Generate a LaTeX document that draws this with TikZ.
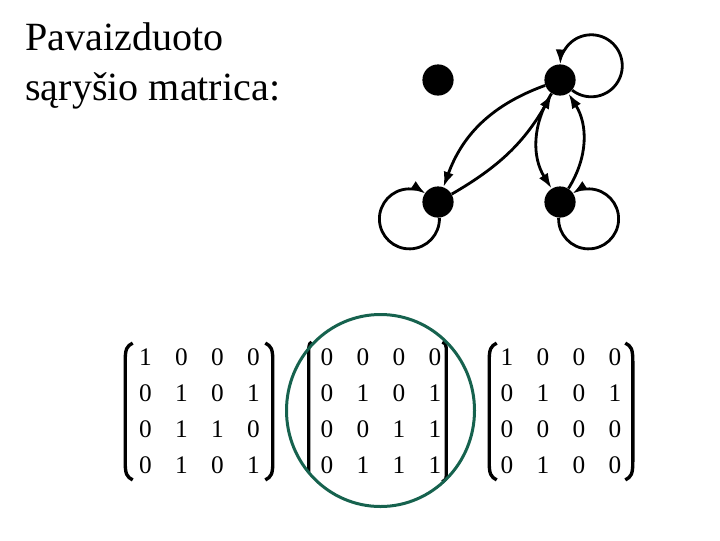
\documentclass[tikz,border=0pt]{standalone}
\usepackage{fontspec}
\setmainfont{Liberation Serif}
\usetikzlibrary{arrows.meta,matrix}
\definecolor{ringgreen}{RGB}{22,98,78}
\tikzset{
  vertex/.style={circle,fill=black,minimum size=0.78cm,inner sep=0pt},
  arc/.style={-{Latex[length=0.38cm,width=0.26cm]},line width=2pt},
  relmatrix/.style={matrix of nodes,inner sep=0pt,
    nodes={minimum width=0.9cm,minimum height=0.9cm,inner sep=0pt,font=\fontsize{18}{21}\selectfont}},
  bracket/.style={line width=2.4pt}
}
\begin{document}
\begin{tikzpicture}[x=0.025cm,y=-0.025cm]
        \useasboundingbox (0,0) rectangle (720,540);

        \node [anchor=base west,font=\fontsize{28.5}{34}\selectfont,inner sep=0pt] (title1) at (25,50) {Pavaizduoto};
        \node [anchor=base west,font=\fontsize{28.5}{34}\selectfont,inner sep=0pt] (title2) at (25,100) {sąryšio matrica:};

        \node [vertex] (a) at (438,80) {};
        \node [vertex] (b) at (560,80) {};
        \node [vertex] (c) at (438,202) {};
        \node [vertex] (d) at (560,202) {};

        \draw [arc] (b.-40) arc [start angle=128,end angle=-178,radius=31];
        \draw [arc] (c.-85) arc [start angle=-2,end angle=303,radius=30];
        \draw [arc] (d.-95) arc [start angle=182,end angle=-123,radius=30];
        \draw [arc] (b) to [bend right=25] (c);
        \draw [arc] (c) to [bend right=15] (b);
        \draw [arc] (b) to [bend right=32] (d);
        \draw [arc] (d) to [bend right=32] (b);

        \matrix [relmatrix] (m1) at (199.5,411.5) {
          1 & 0 & 0 & 0 \\
          0 & 1 & 0 & 1 \\
          0 & 1 & 1 & 0 \\
          0 & 1 & 0 & 1 \\
        };
        \matrix [relmatrix] (m2) at (381,411.5) {
          0 & 0 & 0 & 0 \\
          0 & 1 & 0 & 1 \\
          0 & 0 & 1 & 1 \\
          0 & 1 & 1 & 1 \\
        };
        \matrix [relmatrix] (m3) at (561,411.5) {
          1 & 0 & 0 & 0 \\
          0 & 1 & 0 & 1 \\
          0 & 0 & 0 & 0 \\
          0 & 1 & 0 & 0 \\
        };

        \draw [bracket] ([shift={(5.5,4)}]m1.north west) .. controls +(-6,3) and +(0,-12) .. ([shift={(-2,22)}]m1.north west)
          -- ([shift={(-2,-22)}]m1.south west) .. controls +(0,12) and +(-6,-3) .. ([shift={(5.5,-4)}]m1.south west);
        \draw [bracket] ([shift={(-6.5,4)}]m1.north east) .. controls +(6,3) and +(0,-12) .. ([shift={(1,22)}]m1.north east)
          -- ([shift={(1,-22)}]m1.south east) .. controls +(0,12) and +(6,-3) .. ([shift={(-6.5,-4)}]m1.south east);

        \draw [bracket] ([shift={(3,3)}]m2.north west) .. controls +(-2,1) .. ([shift={(0,9)}]m2.north west)
          -- ([shift={(0,-12)}]m2.south west);
        \draw [bracket] ([shift={(-11,3)}]m2.north east) .. controls +(3,1) .. ([shift={(-7,9)}]m2.north east)
          -- ([shift={(-7,-8)}]m2.south east) .. controls +(0,3) .. ([shift={(-11,-2)}]m2.south east);

        \draw [bracket] ([shift={(8,4)}]m3.north west) .. controls +(-6,3) and +(0,-12) .. ([shift={(0.5,22)}]m3.north west)
          -- ([shift={(0.5,-22)}]m3.south west) .. controls +(0,12) and +(-6,-3) .. ([shift={(8,-4)}]m3.south west);
        \draw [bracket] ([shift={(-8,4)}]m3.north east) .. controls +(6,3) and +(0,-12) .. ([shift={(-0.5,22)}]m3.north east)
          -- ([shift={(-0.5,-22)}]m3.south east) .. controls +(0,12) and +(6,-3) .. ([shift={(-8,-4)}]m3.south east);

        \draw [ringgreen,line width=0.075cm] (380.5,410.5) ellipse [x radius=94,y radius=96];
    \end{tikzpicture}
\end{document}
